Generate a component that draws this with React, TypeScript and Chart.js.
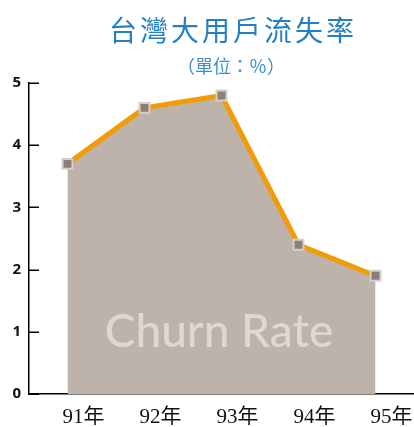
import React, { useEffect, useRef } from 'react';
import { Chart, registerables } from 'chart.js';

Chart.register(...registerables);

const categories = ['91年', '92年', '93年', '94年', '95年'];
const churnRate = [3.7, 4.6, 4.8, 2.4, 1.9];
const yTickValues = [0, 1, 2, 3, 4, 5];
const titleText = '台灣大用戶流失率';
const subtitleText = '（單位：％）';
const watermarkText = 'Churn Rate';

export default function App() {
  const ref = useRef<HTMLCanvasElement>(null);

  useEffect(() => {
    document.body.style.margin = '0';
    const decor = {
      id: 'decor',
      afterDatasetsDraw(chart: any) {
        const ctx = chart.ctx;
        ctx.save();
        ctx.fillStyle = '#ddd8d4';
        ctx.font = '500 46px Lato, "Open Sans", sans-serif';
        ctx.textAlign = 'center';
        ctx.textBaseline = 'alphabetic';
        ctx.fillText(watermarkText, 219, 347);
        ctx.restore();
      },
      afterDraw(chart: any) {
        const ctx = chart.ctx;
        const area = chart.chartArea;
        const y = chart.scales.y;
        ctx.save();
        ctx.strokeStyle = '#000';
        ctx.lineWidth = 1.5;
        yTickValues.forEach((v) => {
          const py = Math.round(y.getPixelForValue(v)) + 0.25;
          ctx.beginPath();
          ctx.moveTo(area.left, py);
          ctx.lineTo(area.left + 10, py);
          ctx.stroke();
        });
        ctx.fillStyle = '#2480c2';
        ctx.textAlign = 'center';
        ctx.textBaseline = 'middle';
        ctx.font = '28px "Noto Sans CJK TC", sans-serif';
        (ctx as any).letterSpacing = '3px';
        ctx.fillText(titleText, 233, 30);
        ctx.fillStyle = '#3a8fcc';
        (ctx as any).letterSpacing = '0px';
        ctx.font = '18px "Noto Sans CJK TC", sans-serif';
        ctx.fillText(subtitleText, 231, 66);
        ctx.restore();
      },
    };

    const chart = new Chart(ref.current as HTMLCanvasElement, {
      type: 'line',
      data: {
        labels: categories,
        datasets: [
          {
            data: churnRate,
            borderColor: '#f29c05',
            borderWidth: 5,
            backgroundColor: '#bdb3ab',
            fill: 'origin',
            tension: 0,
            pointStyle: 'rect',
            pointRadius: 7,
            pointBackgroundColor: '#8c7f78',
            pointBorderColor: '#d3cfcc',
            pointBorderWidth: 2,
          },
        ],
      },
      options: {
        animation: false,
        responsive: false,
        layout: { autoPadding: false, padding: { top: 83, bottom: 2, left: 0, right: 0 } },
        plugins: {
          legend: { display: false },
          tooltip: { enabled: false },
          title: { display: false },
        },
        scales: {
          x: {
            type: 'category',
            offset: true,
            afterFit(s: any) {
              s.height = 31;
            },
            grid: { display: false, drawTicks: false },
            border: { display: true, color: '#000', width: 1.5 },
            ticks: {
              padding: 11,
              labelOffset: 16,
              color: '#111',
              maxRotation: 0,
              autoSkip: false,
              font: { family: '"Liberation Serif", "Noto Sans CJK TC", serif', size: 21 },
            },
          },
          y: {
            min: 0,
            max: 5,
            afterFit(s: any) {
              s.width = 29;
            },
            afterBuildTicks(s: any) {
              s.ticks = yTickValues.map((v) => ({ value: v }));
            },
            grid: { display: false, drawTicks: false },
            border: { display: true, color: '#000', width: 1.5 },
            ticks: {
              padding: 8,
              color: '#111',
              font: { family: '"Noto Sans", sans-serif', size: 15, weight: 'bold' },
            },
          },
        },
      },
      plugins: [decor],
    });
    return () => chart.destroy();
  }, []);

  return (
    <canvas
      ref={ref}
      width={414}
      height={427}
      style={{ position: 'absolute', left: 0, top: 0, width: 414, height: 427 }}
    />
  );
}
